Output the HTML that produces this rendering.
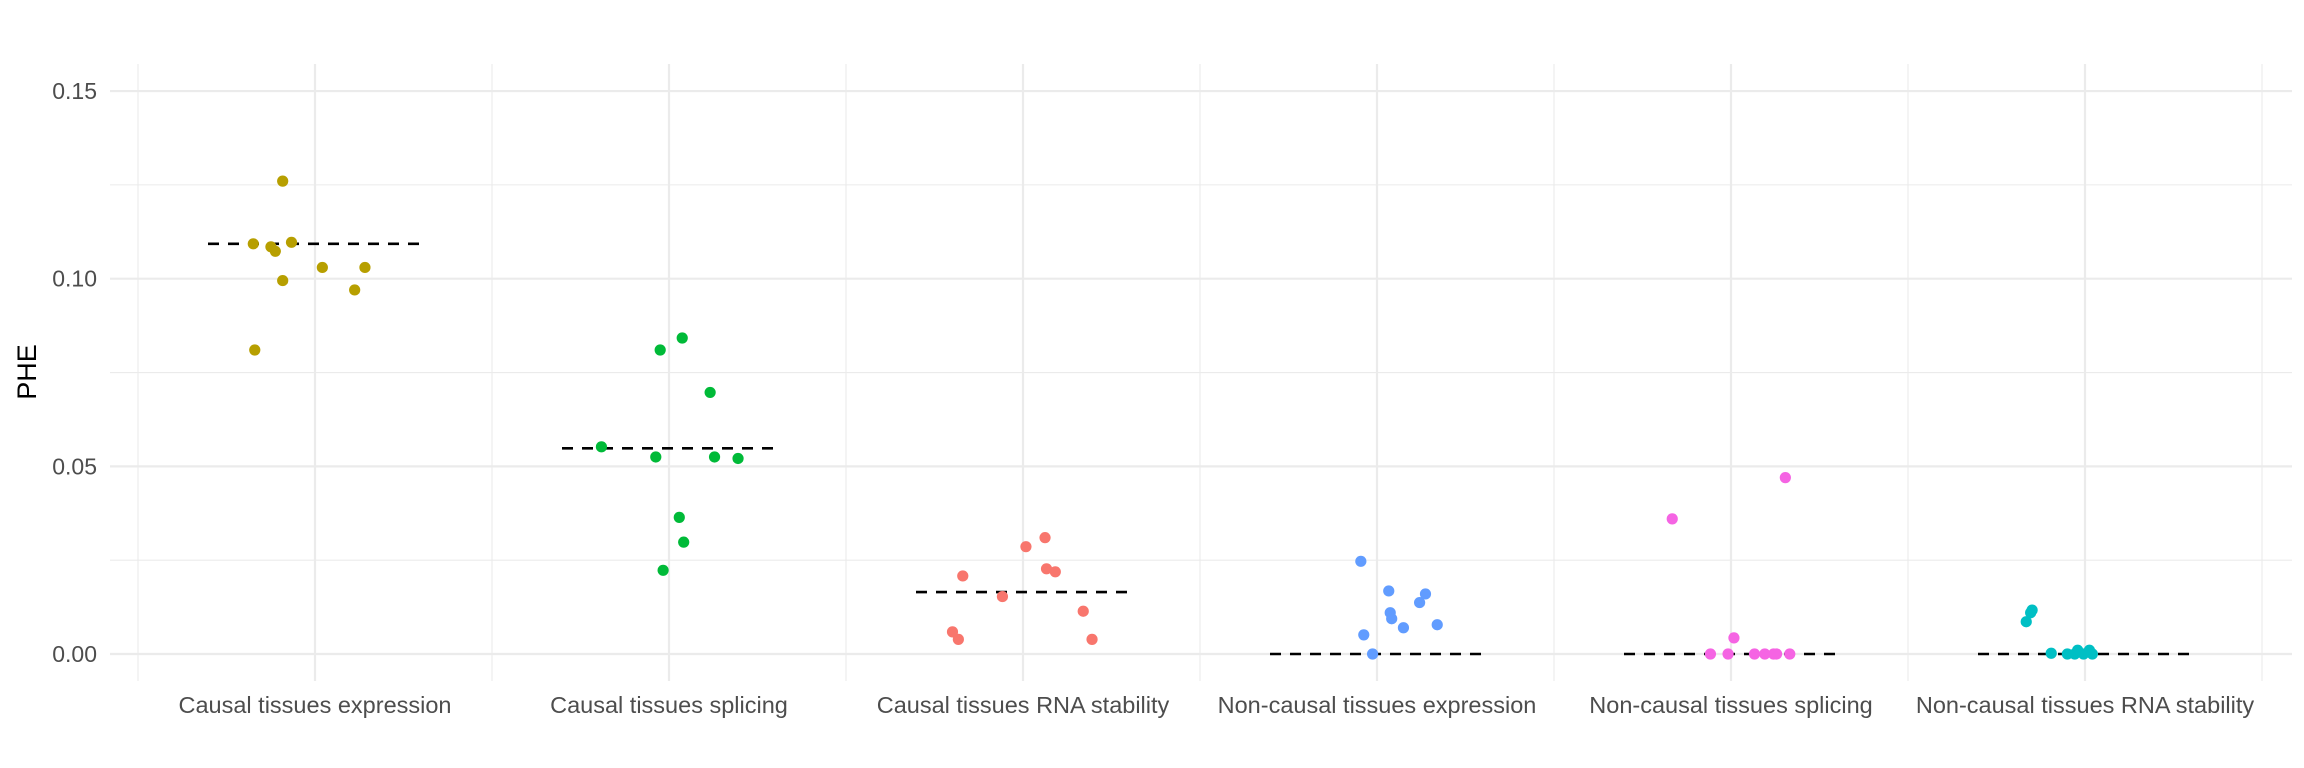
<!DOCTYPE html>
<html><head><meta charset="utf-8"><style>
body{margin:0;background:#fff}
svg{display:block;font-family:"Liberation Sans",sans-serif}
</style></head><body>
<svg id="chart" width="2304" height="768"></svg>
<script>
const categories=["Causal tissues expression","Causal tissues splicing","Causal tissues RNA stability","Non-causal tissues expression","Non-causal tissues splicing","Non-causal tissues RNA stability"];
const colors=["#B79F00","#00BA38","#F8766D","#619CFF","#F564E3","#00BFC4"];
const medians=[0.1093,0.0548,0.0165,0,0,0];
const phe0=[0.1093,0.1085,0.1073,0.1097,0.126,0.0995,0.103,0.103,0.097,0.081];
const jit0=[-42,-30,-27,-16,-22,-22,5,34,27,-41];
const phe1=[0.0552,0.0525,0.0525,0.0521,0.081,0.0842,0.0697,0.0364,0.0298,0.0223];
const jit1=[-46,-9,31,47,-6,9,28,7,10,-4];
const phe2=[0.0208,0.0153,0.0286,0.031,0.0227,0.0219,0.0114,0.0059,0.0039,0.0039];
const jit2=[-41,-14,2,15,16,22,41,-48,-44,47];
const phe3=[0.0247,0.0168,0.011,0.0094,0.007,0.0137,0.016,0.0078,0.0051,0];
const jit3=[-11,8,9,10,18,29,33,41,-9,-3];
const phe4=[0.036,0.047,0.0043,0,0,0,0,0,0,0];
const jit4=[-40,37,2,-14,-2,16,23,29,31,40];
const phe5=[0.0086,0.0117,0.011,0.0002,0,0,0.001,0.001,0,0];
const jit5=[-40,-36,-37,-23,-12,-7,-5,3,5,-1];
const yTicks=[0,0.05,0.10,0.15];
const yTickLabels=["0.00","0.05","0.10","0.15"];
const allPhe=[phe0,phe1,phe2,phe3,phe4,phe5];
const allJit=[jit0,jit1,jit2,jit3,jit4,jit5];

const NS="http://www.w3.org/2000/svg";
const svg=document.getElementById("chart");
const L=110,R=2292,T=64,B=681;
const y=v=>654-(v)*3753;
const x=i=>315+i*354;
const scale=1.469;
function mk(t,a,p){const e=document.createElementNS(NS,t);for(const k in a)e.setAttribute(k,a[k]);(p||svg).appendChild(e);return e;}
for(let i=0;i<yTicks.length-1;i++){const v=(yTicks[i]+yTicks[i+1])/2;
 const g=mk("line",{x1:L,x2:R,y1:y(v),y2:y(v),stroke:"#EBEBEB","stroke-width":1.1});
 
 }
for(let i=0;i<=categories.length;i++){const xv=x(i)-177;
 const g=mk("line",{x1:xv,x2:xv,y1:T,y2:B,stroke:"#EBEBEB","stroke-width":1.1});
 
 }
yTicks.forEach((v,i)=>{
 const g=mk("line",{x1:L,x2:R,y1:y(v),y2:y(v),stroke:"#EBEBEB","stroke-width":2.2});
 
 
 const t=mk("text",{x:97,y:y(v)+8,"text-anchor":"end","font-size":23,fill:"#4D4D4D"});
 t.textContent=yTickLabels[i];
 
 
});
categories.forEach((c,i)=>{
 const g=mk("line",{x1:x(i),x2:x(i),y1:T,y2:B,stroke:"#EBEBEB","stroke-width":2.2});
 
 
 const t=mk("text",{x:x(i),y:713,"text-anchor":"middle","font-size":23.5,fill:"#4D4D4D"});
 t.textContent=c;
 
 
});
categories.forEach((c,i)=>{
 const m=mk("line",{x1:x(i)-107,x2:x(i)+107,y1:y(medians[i]),y2:y(medians[i]),stroke:"#000","stroke-width":2.6,"stroke-dasharray":"11,9"});
 
 
 allPhe[i].forEach((v,j)=>{
  const p=mk("circle",{cx:x(i)+allJit[i][j]*scale,cy:y(v),r:5.6,fill:colors[i]});
  
  
 });
});
const yt=mk("text",{x:0,y:0,transform:"translate(36,372) rotate(-90)","text-anchor":"middle","font-size":27,fill:"#000"});
yt.textContent="PHE";


</script>
</body></html>
